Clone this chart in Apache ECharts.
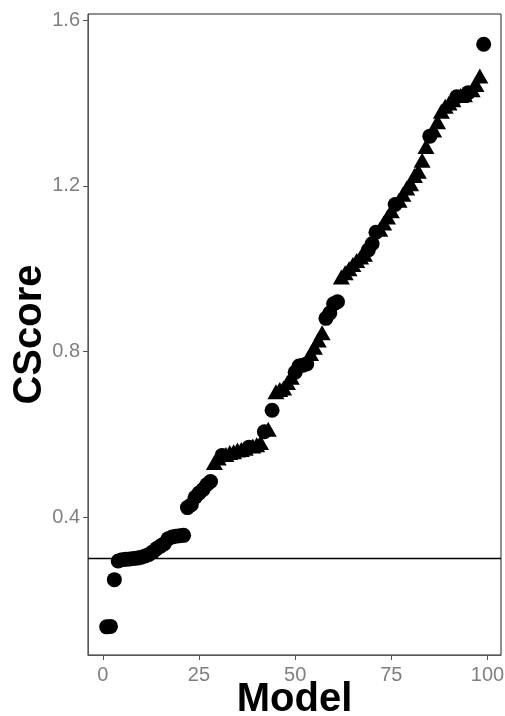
<!DOCTYPE html>
<html>
<head>
<meta charset="utf-8">
<script src="https://cdn.jsdelivr.net/npm/echarts@6/dist/echarts.min.js"></script>
<style>
  html, body { margin: 0; padding: 0; background: #fff; }
  #chart { width: 505px; height: 716px; }
</style>
</head>
<body>
<div id="chart"></div>
<script>
  // CScore per model, sorted ascending (model = index + 1)
  var scores = [
    0.135, 0.136, 0.249, 0.294, 0.297, 0.298, 0.299, 0.300, 0.301, 0.303,
    0.306, 0.310, 0.316, 0.324, 0.330, 0.336, 0.348, 0.352, 0.354, 0.355,
    0.356, 0.423, 0.430, 0.448, 0.458, 0.466, 0.478, 0.486, 0.532, 0.543,
    0.549, 0.551, 0.556, 0.558, 0.562, 0.563, 0.566, 0.569, 0.572, 0.575,
    0.580, 0.606, 0.612, 0.658, 0.703, 0.708, 0.712, 0.725, 0.738, 0.750,
    0.765, 0.767, 0.770, 0.795, 0.810, 0.828, 0.845, 0.880, 0.893, 0.915,
    0.920, 0.980, 0.990, 1.000, 1.010, 1.020, 1.028, 1.035, 1.045, 1.060,
    1.088, 1.095, 1.110, 1.125, 1.140, 1.155, 1.165, 1.180, 1.195, 1.205,
    1.225, 1.235, 1.262, 1.295, 1.320, 1.335, 1.355, 1.380, 1.392, 1.400,
    1.408, 1.415, 1.418, 1.420, 1.425, 1.432, 1.445, 1.465, 1.542
  ]
  // marker shape per model: c = circle, t = triangle
  var shapes = [
    'c','c','c','c','c','c','c','c','c','c',
    'c','c','c','c','c','c','c','c','c','c',
    'c','c','c','c','c','c','c','c','t','t',
    'c','t','t','t','t','t','t','c','t','t',
    't','c','t','c','t','t','t','t','t','c',
    'c','c','c','t','t','t','t','c','c','c',
    'c','t','t','t','t','t','t','t','c','c',
    'c','t','t','t','t','c','t','t','t','t',
    't','t','t','t','c','t','t','t','t','t',
    't','c','t','t','c','t','t','t','c'
  ]
  var xTicks = [0, 25, 50, 75, 100]
  var yTicks = [0.4, 0.8, 1.2, 1.6]
  var cutoff = 0.3

  var circles = []
  var triangles = []
  scores.map(function (v, i) {
    if (shapes[i] === 't') triangles.push([i + 1, v])
    else circles.push([i + 1, v])
  })

  var chart = echarts.init(document.getElementById('chart'))
  var labelStyle = {
    color: '#7f7f7f',
    fontSize: 20,
    fontFamily: 'Liberation Sans'
  }
  var nameStyle = {
    color: '#000',
    fontSize: 40,
    fontWeight: 'bold',
    fontFamily: 'Liberation Sans'
  }
  chart.setOption({
    backgroundColor: '#fff',
    animation: false,
    grid: {
      left: 88,
      right: 4,
      top: 14,
      bottom: 61,
      outerBoundsMode: 'none',
      show: true,
      borderColor: '#222',
      borderWidth: 1
    },
    xAxis: {
      type: 'value',
      min: -3.85,
      max: 103.5,
      name: 'Model',
      nameLocation: 'middle',
      nameGap: 25,
      nameMoveOverlap: false,
      nameTextStyle: nameStyle,
      splitLine: { show: false },
      axisLine: { show: true, onZero: false, lineStyle: { color: '#555', width: 1 } },
      axisTick: { show: true, length: 5, customValues: xTicks, lineStyle: { color: '#555' } },
      axisLabel: Object.assign({ margin: 10, customValues: xTicks }, labelStyle)
    },
    yAxis: {
      type: 'value',
      min: 0.067,
      max: 1.615,
      name: 'CScore',
      nameLocation: 'middle',
      nameGap: 38,
      nameMoveOverlap: false,
      nameTextStyle: nameStyle,
      splitLine: { show: false },
      axisLine: { show: true, onZero: false, lineStyle: { color: '#555', width: 1 } },
      axisTick: { show: true, length: 5, customValues: yTicks, lineStyle: { color: '#555' } },
      axisLabel: Object.assign({
        margin: 8,
        customValues: yTicks,
        formatter: function (v) { return v.toFixed(1) }
      }, labelStyle)
    },
    series: [
      {
        type: 'scatter',
        data: circles,
        symbol: 'circle',
        symbolSize: 15,
        itemStyle: { color: '#000', opacity: 1 },
        markLine: {
          silent: true,
          symbol: 'none',
          label: { show: false },
          lineStyle: { color: '#000', width: 1.3, type: 'solid' },
          data: [{ yAxis: cutoff }]
        }
      },
      {
        type: 'scatter',
        data: triangles,
        symbol: 'triangle',
        symbolSize: [17, 15],
        itemStyle: { color: '#000', opacity: 1 }
      }
    ]
  })
</script>
</body>
</html>
